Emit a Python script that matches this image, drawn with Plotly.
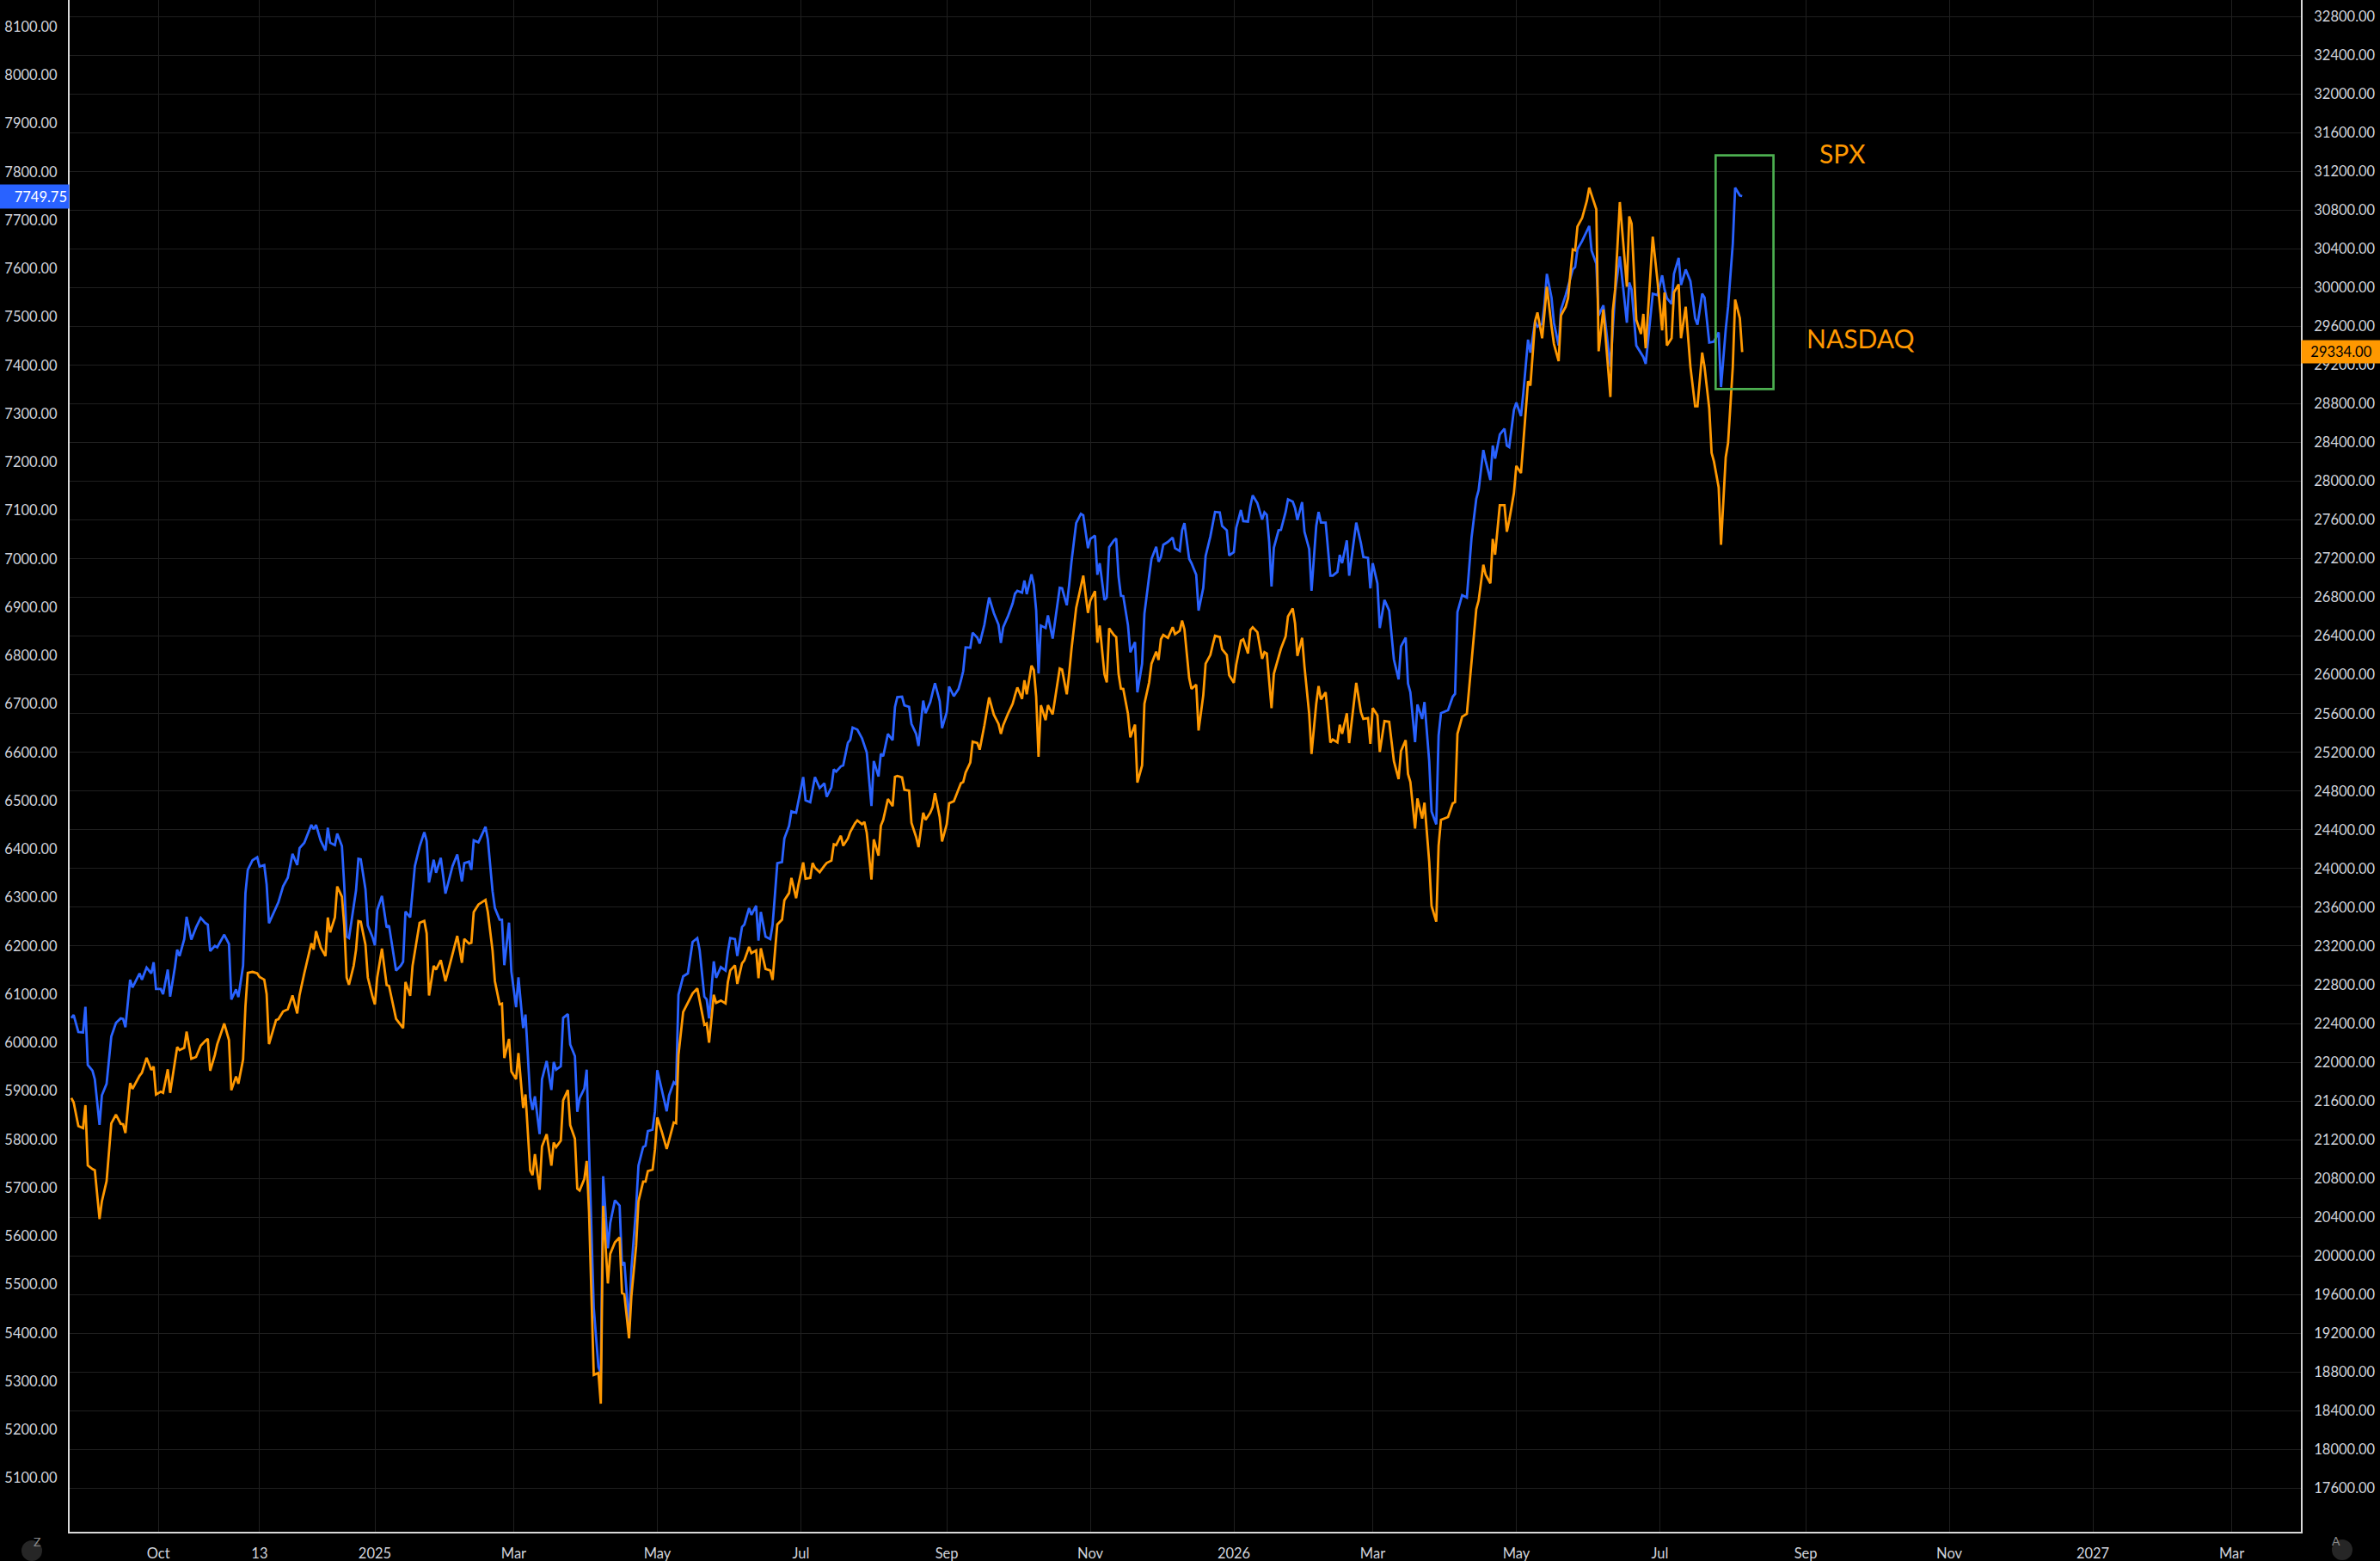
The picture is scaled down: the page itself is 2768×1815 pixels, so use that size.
import plotly.graph_objects as go

# daily closes (SPX on left axis, NASDAQ on right axis)
dates = [
    "2024-08-25", "2024-08-26", "2024-08-28", "2024-08-30", "2024-08-31",
    "2024-09-01", "2024-09-03", "2024-09-04", "2024-09-06", "2024-09-07", "2024-09-09", "2024-09-11",
    "2024-09-13", "2024-09-15", "2024-09-16", "2024-09-17", "2024-09-19", "2024-09-20", "2024-09-23",
    "2024-09-24", "2024-09-26", "2024-09-28", "2024-09-29", "2024-09-30",
    "2024-10-02", "2024-10-03", "2024-10-05", "2024-10-06", "2024-10-08", "2024-10-09", "2024-10-10",
    "2024-10-12", "2024-10-13", "2024-10-15", "2024-10-17", "2024-10-19", "2024-10-21", "2024-10-22",
    "2024-10-23", "2024-10-25", "2024-10-26", "2024-10-29", "2024-10-31",
    "2024-11-01", "2024-11-03", "2024-11-04", "2024-11-06", "2024-11-07", "2024-11-08", "2024-11-10",
    "2024-11-12", "2024-11-13", "2024-11-15", "2024-11-16", "2024-11-17", "2024-11-20", "2024-11-21",
    "2024-11-23", "2024-11-25", "2024-11-27", "2024-11-29", "2024-11-30",
    "2024-12-02", "2024-12-05", "2024-12-06", "2024-12-07", "2024-12-09", "2024-12-11", "2024-12-12",
    "2024-12-13", "2024-12-15", "2024-12-16", "2024-12-18", "2024-12-19", "2024-12-20", "2024-12-21",
    "2024-12-23", "2024-12-24", "2024-12-25", "2024-12-26", "2024-12-28", "2024-12-29", "2024-12-31",
    "2025-01-01", "2025-01-02", "2025-01-04", "2025-01-06", "2025-01-07", "2025-01-10", "2025-01-12",
    "2025-01-13", "2025-01-14", "2025-01-16", "2025-01-17", "2025-01-18", "2025-01-20", "2025-01-22",
    "2025-01-23", "2025-01-24", "2025-01-26", "2025-01-27", "2025-01-29", "2025-01-31",
    "2025-02-03", "2025-02-05", "2025-02-07", "2025-02-08", "2025-02-10", "2025-02-11", "2025-02-12",
    "2025-02-14", "2025-02-17", "2025-02-18", "2025-02-20", "2025-02-21", "2025-02-23", "2025-02-24",
    "2025-02-25", "2025-02-27", "2025-02-28",
    "2025-03-02", "2025-03-03", "2025-03-05", "2025-03-06", "2025-03-08", "2025-03-09", "2025-03-10",
    "2025-03-12", "2025-03-13", "2025-03-15", "2025-03-17", "2025-03-18", "2025-03-19", "2025-03-21",
    "2025-03-22", "2025-03-24", "2025-03-25", "2025-03-27", "2025-03-28", "2025-03-29", "2025-03-31",
    "2025-04-01", "2025-04-02", "2025-04-04", "2025-04-06", "2025-04-07", "2025-04-08", "2025-04-10",
    "2025-04-11", "2025-04-13", "2025-04-15", "2025-04-16", "2025-04-17", "2025-04-19", "2025-04-20",
    "2025-04-22", "2025-04-23", "2025-04-25", "2025-04-26", "2025-04-27", "2025-04-29", "2025-04-30",
    "2025-05-01", "2025-05-03", "2025-05-05", "2025-05-06", "2025-05-08", "2025-05-09", "2025-05-10",
    "2025-05-12", "2025-05-14", "2025-05-16", "2025-05-18", "2025-05-19", "2025-05-21", "2025-05-22",
    "2025-05-23", "2025-05-25", "2025-05-26", "2025-05-28", "2025-05-30", "2025-05-31",
    "2025-06-01", "2025-06-03", "2025-06-04", "2025-06-06", "2025-06-07", "2025-06-09", "2025-06-10",
    "2025-06-12", "2025-06-13", "2025-06-14", "2025-06-16", "2025-06-18", "2025-06-19", "2025-06-20",
    "2025-06-21", "2025-06-23", "2025-06-24", "2025-06-26", "2025-06-27", "2025-06-29", "2025-06-30",
    "2025-07-02", "2025-07-03", "2025-07-05", "2025-07-06", "2025-07-07", "2025-07-09", "2025-07-11",
    "2025-07-12", "2025-07-14", "2025-07-15", "2025-07-16", "2025-07-18", "2025-07-19", "2025-07-21",
    "2025-07-22", "2025-07-23", "2025-07-24", "2025-07-25", "2025-07-27", "2025-07-28", "2025-07-29",
    "2025-07-31",
    "2025-08-01", "2025-08-03", "2025-08-04", "2025-08-05", "2025-08-07", "2025-08-09", "2025-08-10",
    "2025-08-11", "2025-08-13", "2025-08-14", "2025-08-16", "2025-08-17", "2025-08-19", "2025-08-20",
    "2025-08-22", "2025-08-23", "2025-08-25", "2025-08-26", "2025-08-27", "2025-08-29", "2025-08-30",
    "2025-09-01", "2025-09-02", "2025-09-04", "2025-09-06", "2025-09-07", "2025-09-08", "2025-09-09",
    "2025-09-11", "2025-09-12", "2025-09-14", "2025-09-15", "2025-09-17", "2025-09-18", "2025-09-19",
    "2025-09-21", "2025-09-23", "2025-09-24", "2025-09-25", "2025-09-27", "2025-09-29", "2025-09-30",
    "2025-10-01", "2025-10-03", "2025-10-04", "2025-10-05", "2025-10-07", "2025-10-08", "2025-10-09",
    "2025-10-10", "2025-10-11", "2025-10-13", "2025-10-14", "2025-10-16", "2025-10-17", "2025-10-19",
    "2025-10-20", "2025-10-22", "2025-10-23", "2025-10-24", "2025-10-26", "2025-10-28", "2025-10-29",
    "2025-10-31",
    "2025-11-01", "2025-11-03", "2025-11-04", "2025-11-05", "2025-11-07", "2025-11-08", "2025-11-09",
    "2025-11-11", "2025-11-12", "2025-11-13", "2025-11-14", "2025-11-15", "2025-11-17", "2025-11-18",
    "2025-11-20", "2025-11-21", "2025-11-23", "2025-11-24", "2025-11-26", "2025-11-27", "2025-11-29",
    "2025-11-30",
    "2025-12-01", "2025-12-02", "2025-12-04", "2025-12-06", "2025-12-07", "2025-12-09", "2025-12-10",
    "2025-12-11", "2025-12-13", "2025-12-14", "2025-12-16", "2025-12-17", "2025-12-19", "2025-12-20",
    "2025-12-22", "2025-12-23", "2025-12-24", "2025-12-26", "2025-12-27", "2025-12-29", "2025-12-30",
    "2026-01-01", "2026-01-02", "2026-01-04", "2026-01-05", "2026-01-07", "2026-01-08", "2026-01-09",
    "2026-01-11", "2026-01-13", "2026-01-14", "2026-01-15", "2026-01-16", "2026-01-17", "2026-01-18",
    "2026-01-20", "2026-01-21", "2026-01-23", "2026-01-24", "2026-01-26", "2026-01-27", "2026-01-28",
    "2026-01-30", "2026-01-31",
    "2026-02-02", "2026-02-03", "2026-02-05", "2026-02-06", "2026-02-07", "2026-02-09", "2026-02-11",
    "2026-02-12", "2026-02-14", "2026-02-15", "2026-02-16", "2026-02-18", "2026-02-19", "2026-02-22",
    "2026-02-24", "2026-02-25", "2026-02-27", "2026-02-28",
    "2026-03-01", "2026-03-03", "2026-03-04", "2026-03-06", "2026-03-08", "2026-03-10", "2026-03-12",
    "2026-03-13", "2026-03-15", "2026-03-16", "2026-03-17", "2026-03-19", "2026-03-20", "2026-03-22",
    "2026-03-23", "2026-03-25", "2026-03-26", "2026-03-28", "2026-03-29", "2026-03-30",
    "2026-04-01", "2026-04-02", "2026-04-04", "2026-04-05", "2026-04-06", "2026-04-08", "2026-04-10",
    "2026-04-12", "2026-04-14", "2026-04-15", "2026-04-17", "2026-04-18", "2026-04-20", "2026-04-21",
    "2026-04-22", "2026-04-24", "2026-04-26", "2026-04-27", "2026-04-28", "2026-04-30",
    "2026-05-01", "2026-05-03", "2026-05-04", "2026-05-06", "2026-05-07", "2026-05-09", "2026-05-10",
    "2026-05-12", "2026-05-13", "2026-05-14", "2026-05-16", "2026-05-17", "2026-05-19", "2026-05-20",
    "2026-05-22", "2026-05-23", "2026-05-25", "2026-05-26", "2026-05-27", "2026-05-29", "2026-05-31",
    "2026-06-01", "2026-06-02", "2026-06-04", "2026-06-05", "2026-06-07", "2026-06-10", "2026-06-11",
    "2026-06-12", "2026-06-14", "2026-06-17", "2026-06-18", "2026-06-19", "2026-06-21", "2026-06-23",
    "2026-06-24", "2026-06-25", "2026-06-28", "2026-06-30",
    "2026-07-02", "2026-07-03", "2026-07-04", "2026-07-06", "2026-07-07", "2026-07-09", "2026-07-10",
    "2026-07-12", "2026-07-14", "2026-07-16", "2026-07-17", "2026-07-19", "2026-07-20", "2026-07-22",
    "2026-07-23", "2026-07-24", "2026-07-26", "2026-07-27", "2026-07-29", "2026-07-30",
    "2026-08-01", "2026-08-02", "2026-08-04", "2026-08-05",
]

spx = [
    6051, 6057, 6022, 6021, 6074,
    5954, 5942, 5924, 5830, 5891, 5915, 6013, 6041, 6050, 6049, 6032, 6130, 6114, 6143, 6130, 6155, 6143, 6166, 6111,
    6111, 6100, 6151, 6095, 6155, 6192, 6179, 6214, 6260, 6213, 6238, 6258, 6247, 6244, 6189, 6200, 6197, 6223, 6204,
    6089, 6110, 6094, 6159, 6309, 6357, 6377, 6383, 6364, 6367, 6327, 6247, 6281, 6290, 6323, 6341, 6390, 6367, 6402,
    6413, 6450, 6441, 6450, 6417, 6397, 6444, 6413, 6408, 6432, 6406, 6324, 6219, 6216, 6287, 6315, 6380, 6379, 6317,
    6242, 6218,
    6201, 6274, 6303, 6238, 6242, 6149, 6159, 6167, 6271, 6259, 6313, 6365, 6405, 6435, 6417, 6331, 6378, 6351, 6382,
    6308,
    6365, 6389, 6333, 6371, 6374, 6357, 6418, 6414, 6446, 6420, 6313, 6278, 6254, 6254, 6160, 6248, 6147,
    6073, 6135, 6030, 6058, 5887, 5861, 5889, 5811, 5924, 5962, 5902, 5960, 5944, 5951, 6051, 6059, 5996, 5972, 5857,
    5885, 5905,
    5944, 5766, 5452, 5329, 5317, 5724, 5575, 5627, 5674, 5663, 5540, 5546, 5417, 5532, 5659, 5746, 5784, 5787, 5817,
    5820, 5858,
    5943, 5903, 5858, 5891, 5918, 5913, 6099, 6137, 6143, 6208, 6216, 6191, 6095, 6089, 6050, 6168, 6134, 6156, 6149,
    6188,
    6216, 6214, 6179, 6239, 6244, 6278, 6264, 6283, 6211, 6270, 6219, 6214, 6244, 6306, 6371, 6373, 6422, 6448, 6478,
    6475, 6502,
    6549, 6501, 6497, 6523, 6549, 6526, 6536, 6508, 6528, 6565, 6560, 6571, 6573, 6620, 6626, 6651, 6649, 6647, 6629,
    6616, 6600, 6489,
    6582, 6550, 6597, 6592, 6638, 6625, 6694, 6714, 6715, 6697, 6694, 6659, 6638, 6613, 6707, 6681, 6704, 6724, 6743,
    6706, 6650,
    6683, 6736, 6716, 6731, 6748, 6768, 6817, 6816, 6847, 6837, 6825, 6864, 6893, 6920, 6888, 6864, 6826, 6859, 6881,
    6908, 6928,
    6934, 6930, 6955, 6927, 6968, 6946, 6893, 6763, 6862, 6857, 6883, 6835, 6868, 6940, 6939, 6904, 6946, 6994, 7074,
    7093, 7090, 7022,
    7041, 7048, 6967, 6991, 6915, 6920, 7024, 7038, 7042, 6964, 6924, 6923, 6863, 6807, 6828, 6724, 6783, 6887, 6964,
    7000, 7025, 6994,
    7004, 7029, 7035, 7044, 7022, 7016, 7059, 7074, 7000, 6991, 6967, 6893, 6940, 7006, 7046, 7071, 7097, 7096, 7068,
    7059, 7007,
    7014, 7064, 7101, 7078, 7077, 7109, 7131, 7115, 7081, 7096, 7091, 7035, 6943, 7023, 7059, 7060, 7097, 7123, 7118,
    7105, 7080, 7117, 7056,
    7020, 6934, 7068, 7097, 7075, 7075, 6965, 6965, 6973, 7008, 6991, 7038, 6965, 7075, 7032, 7004, 7002, 6939,
    6991, 6949, 6857, 6915, 6893, 6792, 6751, 6819, 6837, 6742, 6724, 6621, 6699, 6669, 6704, 6582, 6478, 6451, 6635,
    6681,
    6685, 6687, 6715, 6721, 6890, 6925, 6920, 7044, 7124, 7142, 7225, 7202, 7163, 7234, 7207, 7257, 7269, 7234, 7231,
    7308,
    7323, 7295, 7343, 7453, 7426, 7491, 7480, 7486, 7527, 7589, 7539, 7488, 7441, 7515, 7545, 7563, 7598, 7603, 7640,
    7657, 7678,
    7688, 7637, 7610, 7503, 7524, 7397, 7480, 7551, 7625, 7488, 7571, 7557, 7441, 7426, 7417, 7403, 7548, 7545,
    7586, 7557, 7539, 7527, 7589, 7622, 7566, 7598, 7574, 7497, 7484, 7548, 7540, 7447, 7448, 7449, 7468, 7355, 7474,
    7521,
    7651, 7767, 7751, 7749.75,
]

ndx = [
    21631, 21586, 21341, 21320, 21557,
    20935, 20897, 20885, 20381, 20565, 20772, 21370, 21459, 21364, 21360, 21269, 21785, 21725, 21861, 21891, 22045,
    21921, 21956, 21666,
    21696, 21684, 21927, 21684, 22001, 22157, 22125, 22149, 22317, 22036, 22054, 22172, 22223, 22243, 21912, 22075,
    22184, 22400, 22229,
    21711, 21853, 21779, 22030, 22578, 22924, 22933, 22918, 22880, 22853, 22705, 22187, 22436, 22445, 22525, 22548,
    22690, 22504, 22697,
    22918, 23229, 23164, 23353, 23185, 23096, 23495, 23341, 23495, 23815, 23709, 23407, 22874, 22800, 22998, 23164,
    23457, 23451, 23213, 22876, 22678,
    22598, 22876, 23173, 22797, 22789, 22448, 22380, 22353, 22829, 22686, 22995, 23134, 23439, 23459, 23332, 22690,
    22995, 22956, 23055, 22837,
    23114, 23305, 23027, 23273, 23225, 23233, 23550, 23629, 23677, 23550, 23154, 22836, 22598, 22606, 22043, 22241,
    21905,
    21825, 22095, 21528, 21667, 20882, 20834, 21052, 20683, 21131, 21258, 20933, 21171, 21123, 21191, 21607, 21714,
    21350, 21211, 20695, 20675, 20794,
    20981, 20457, 18772, 18792, 18475, 20517, 19716, 20021, 20140, 20192, 19617, 19605, 19149, 19585, 20101, 20565,
    20767, 20767, 20876, 20891, 21098,
    21430, 21276, 21104, 21193, 21379, 21370, 22075, 22519, 22622, 22711, 22762, 22637, 22386, 22400, 22202, 22696,
    22614, 22637, 22608, 22830,
    22948, 23001, 22809, 23022, 23052, 23191, 23126, 23155, 22868, 23176, 22963, 22948, 22850, 23138, 23422, 23472,
    23673, 23747, 23904, 23694, 23836,
    24064, 23895, 23904, 24058, 24008, 23963, 24029, 24058, 24082, 24251, 24242, 24339, 24236, 24310, 24378, 24428,
    24467, 24497, 24458, 24482, 24370, 23887,
    24301, 24133, 24443, 24503, 24719, 24645, 24947, 24956, 24941, 24813, 24805, 24473, 24325, 24221, 24577, 24503,
    24577, 24636, 24778, 24532, 24281,
    24458, 24674, 24695, 24813, 24881, 24893, 24991, 25095, 25311, 25296, 25228, 25480, 25613, 25767, 25589, 25494,
    25391, 25480, 25598, 25702, 25790,
    25870, 25752, 25944, 25799, 26095, 26051, 25775, 25154, 25687, 25533, 25687, 25592, 25746, 26066, 26056, 25799,
    26012, 26264, 26693, 26930, 27025, 26640,
    26767, 26865, 26332, 26510, 26006, 25923, 26480, 26412, 26391, 26012, 25858, 25855, 25598, 25355, 25486, 24888,
    25065, 25702, 25924, 26116, 26240, 26154,
    26368, 26412, 26382, 26492, 26421, 26456, 26560, 26471, 25968, 25855, 25900, 25426, 25790, 26116, 26205, 26308,
    26403, 26391, 26264, 26205, 25997,
    25918, 26107, 26353, 26368, 26220, 26462, 26492, 26441, 26166, 26234, 26220, 25924, 25657, 26012, 26196, 26270,
    26397, 26604, 26687, 26530, 26196, 26382, 26086,
    25598, 25183, 25702, 25885, 25746, 25820, 25302, 25332, 25302, 25486, 25391, 25604, 25296, 25918, 25613, 25545,
    25554, 25287,
    25657, 25583, 25204, 25524, 25515, 25110, 24923, 25213, 25326, 24976, 24893, 24414, 24725, 24517, 24680, 24073,
    23615, 23452, 24236, 24503,
    24526, 24532, 24674, 24686, 25391, 25568, 25598, 26160, 26678, 26767, 27137, 27034, 26945, 27404, 27241, 27753,
    27753, 27478, 27596, 27877,
    28158, 28084, 28410, 29032, 28987, 29653, 29742, 29476, 29742, 30008, 29594, 29416, 29239, 29712, 29801, 29890,
    30393, 30384, 30630, 30719, 30896,
    31030, 30956, 30808, 29342, 29772, 28869, 29757, 29979, 30882, 30008, 30734, 30660, 29668, 29520, 29727, 29372,
    30526, 30068,
    29558, 29949, 29402, 29476, 29949, 30032, 29476, 29801, 29180, 28774, 28774, 29328, 29180, 28751, 28292, 28203,
    27936, 27344, 28247, 28395,
    29180, 29875, 29683, 29334,
]

x_tick_dates = ["2024-10-01", "2024-11-13", "2025-01-01", "2025-03-01", "2025-05-01", "2025-07-01",
                "2025-09-01", "2025-11-01", "2026-01-01", "2026-03-01", "2026-05-01", "2026-07-01",
                "2026-09-01", "2026-11-01", "2027-01-01", "2027-03-01"]
x_tick_text = ["Oct", "13", "2025", "Mar", "May", "Jul", "Sep", "Nov", "2026", "Mar", "May", "Jul",
               "Sep", "Nov", "2027", "Mar"]
spx_ticks = list(range(5100, 8101, 100))
ndx_ticks = list(range(17600, 32801, 400))

assert len(dates) == len(spx) == len(ndx), (len(dates), len(spx), len(ndx))

BLUE = "#2962ff"
ORANGE = "#ff9800"
GRID = "#1f1f1f"
AXIS = "#d9d9d9"
TEXT = "#d1d4dc"
FONT = "Lato, sans-serif"

fig = go.Figure()
fig.add_trace(go.Scatter(x=dates, y=spx, mode="lines", name="SPX",
                         line=dict(color=BLUE, width=2.8), yaxis="y"))
fig.add_trace(go.Scatter(x=dates, y=ndx, mode="lines", name="NASDAQ",
                         line=dict(color=ORANGE, width=2.8), yaxis="y2"))

fig.update_layout(
    template="none",
    width=2768, height=1815,
    margin=dict(l=81, r=92, t=0, b=34, pad=0),
    paper_bgcolor="#000000", plot_bgcolor="#000000",
    showlegend=False,
    font=dict(family=FONT, size=16.5, color=TEXT),
    xaxis=dict(type="date", range=["2024-08-24 07:12", "2027-03-30 09:36"],
               tickmode="array", tickvals=x_tick_dates, ticktext=x_tick_text,
               showgrid=True, gridcolor=GRID, gridwidth=1,
               showline=True, linecolor=AXIS, linewidth=2,
               ticks="outside", ticklen=9, tickcolor="#000000",
               zeroline=False, automargin=False),
    yaxis=dict(range=[4988.9, 8155.1], tickmode="array", tickvals=spx_ticks,
               ticktext=[f"{v}.00" for v in spx_ticks],
               showgrid=False, showline=True, linecolor=AXIS, linewidth=2,
               ticks="outside", ticklen=9, tickcolor="#000000",
               zeroline=False, automargin=False),
    yaxis2=dict(range=[17152, 32968.7], overlaying="y", side="right",
                tickmode="array", tickvals=ndx_ticks,
                ticktext=[f"{v}.00" for v in ndx_ticks],
                showgrid=True, gridcolor=GRID, gridwidth=1,
                showline=True, linecolor=AXIS, linewidth=2,
                ticks="outside", ticklen=10, tickcolor="#000000",
                zeroline=False, automargin=False),
)

# highlight box around the latest move
fig.add_shape(type="rect", xref="x", yref="y",
              x0="2026-07-24 17:00", x1="2026-08-18 07:00", y0=7351, y1=7834,
              line=dict(color="#4caf50", width=2.7), fillcolor="rgba(0,0,0,0)")

fig.add_annotation(x="2026-09-16 12:00", y=7839, xref="x", yref="y", text="SPX",
                   showarrow=False, font=dict(family=FONT, size=30, color=ORANGE))
fig.add_annotation(x="2026-09-24 10:00", y=7456, xref="x", yref="y", text="NASDAQ",
                   showarrow=False, font=dict(family=FONT, size=30, color=ORANGE))

# last price tags on the axes
fig.add_annotation(x=0, y=spx[-1], xref="paper", yref="y", xanchor="right", yanchor="middle",
                   text=f"{spx[-1]:.2f}", showarrow=False, bgcolor=BLUE, borderpad=2,
                   width=80, height=23, align="right",
                   font=dict(family=FONT, size=16.5, color="#ffffff"))
fig.add_annotation(x=1, y=ndx[-1], xref="paper", yref="y2", xanchor="left", yanchor="middle",
                   text=f"{ndx[-1]:.2f}", showarrow=False, bgcolor=ORANGE, borderpad=2,
                   width=88, height=22, align="center",
                   font=dict(family=FONT, size=16.5, color="#000000"))

# small corner buttons
for px_x, px_y, letter in [(-0.01696, -0.01235, "Z"), (1.0185, -0.01179, "A")]:
    fig.add_shape(type="circle", xref="paper", yref="paper", xsizemode="pixel", ysizemode="pixel",
                  xanchor=px_x, yanchor=px_y, x0=-12, x1=12, y0=-12, y1=12,
                  fillcolor="#262626", line=dict(width=0))
    fig.add_annotation(x=px_x, y=px_y, xref="paper", yref="paper", text=letter, showarrow=False,
                       font=dict(family=FONT, size=14, color="#8a8a8a"))

# page margin off so the figure fills the window exactly; no toolbar
fig.write_html("out.html", config={"displayModeBar": False},
               post_script="document.body.style.margin='0px';"
                           "document.body.style.background='#000000';"
                           "document.body.style.overflow='hidden';")
